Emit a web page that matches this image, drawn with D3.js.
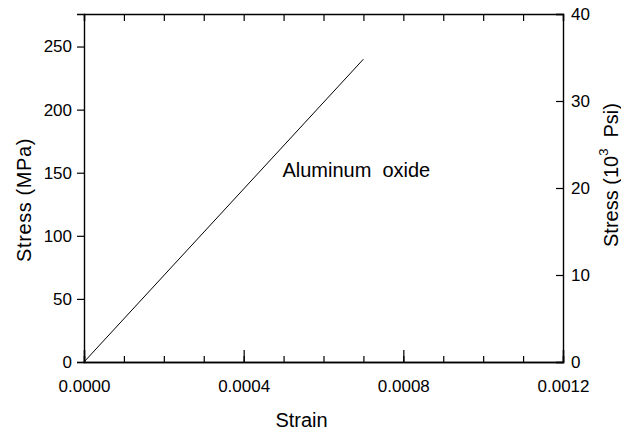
<!DOCTYPE html>
<html>
<head>
<meta charset="utf-8">
<script src="https://cdn.jsdelivr.net/npm/d3@7"></script>
<style>
  body { margin: 0; background: #fff; }
  text { font-family: Arial, "Liberation Sans", Helvetica, sans-serif; fill: #000; }
</style>
</head>
<body>
<div id="plot"></div>
<script>
// data
var strain = [0, 0.0007];
var stressMPa = [0, 240];
var xTicks = [0, 0.0004, 0.0008, 0.0012];
var yLeftTicks = [0, 50, 100, 150, 200, 250];
var yRightTicks = [0, 10, 20, 30, 40];
var label = "Aluminum\u00a0\u00a0oxide";

var W = 621, H = 430;
var margin = {top: 14, right: 58, bottom: 68, left: 84},
    width = W - margin.left - margin.right,
    height = H - margin.top - margin.bottom;

var svg = d3.select("#plot")
  .append("svg")
    .attr("width", W)
    .attr("height", H)
  .append("g")
    .attr("transform", "translate(" + margin.left + "," + margin.top + ")");

var x = d3.scaleLinear().domain([0, 0.0012]).range([0, width]);
// right axis is ksi, left axis MPa (1 ksi = 6.894757 MPa)
var yR = d3.scaleLinear().domain([0, 40]).range([height, 0]);
var yL = d3.scaleLinear().domain([0, 40 * 6.894757]).range([height, 0]);

var fmtX = d3.format(".4f");
var minorX = d3.range(0, 12.5).map(function(i) { return i * 0.0001; });

// bottom axis: minor ticks every 0.0001, major every 0.0004
var gBottom = svg.append("g").attr("transform", "translate(0," + height + ")");
gBottom.call(d3.axisBottom(x).tickValues(minorX).tickSize(-6).tickFormat(""));
gBottom.append("g").call(d3.axisBottom(x).tickValues(xTicks).tickSize(-12).tickPadding(18).tickFormat(fmtX));

var gTop = svg.append("g");
gTop.call(d3.axisTop(x).tickValues(minorX).tickSize(-7).tickFormat(""));

var gLeft = svg.append("g");
gLeft.call(d3.axisLeft(yL).tickValues(yLeftTicks).tickSize(7).tickPadding(5));

var gRight = svg.append("g").attr("transform", "translate(" + width + ",0)");
gRight.call(d3.axisRight(yR).tickValues(yRightTicks).tickSize(-7).tickPadding(8));

svg.selectAll(".domain").attr("stroke", "#000").attr("stroke-width", 1.4);
svg.selectAll(".tick line").attr("stroke", "#000").attr("stroke-width", 1.2);
svg.selectAll(".tick text").style("font-size", "17px").style("font-family", "Arial, 'Liberation Sans', sans-serif").attr("fill", "#000");

// the data line
svg.append("path")
  .datum(strain.map(function(d, i) { return {s: d, p: stressMPa[i]}; }))
  .attr("fill", "none")
  .attr("stroke", "#000")
  .attr("stroke-width", 1)
  .attr("d", d3.line()
    .x(function(d) { return x(d.s); })
    .y(function(d) { return yL(d.p); })
  );

svg.append("text")
  .attr("x", x(0.000497))
  .attr("y", yL(147))
  .style("font-size", "20px")
  .text(label);

// axis titles
svg.append("text")
  .attr("x", x(0.000545))
  .attr("y", height + 65)
  .attr("text-anchor", "middle")
  .style("font-size", "20px")
  .text("Strain");

svg.append("text")
  .attr("transform", "translate(" + (24 - margin.left) + "," + (200 - margin.top) + ") rotate(-90)")
  .attr("text-anchor", "middle")
  .attr("dominant-baseline", "central")
  .style("font-size", "20px")
  .style("letter-spacing", "0.6px")
  .text("Stress (MPa)");

var rt = svg.append("text")
  .attr("transform", "translate(" + (611 - margin.left) + "," + (175 - margin.top) + ") rotate(-90)")
  .attr("text-anchor", "middle")
  .attr("dominant-baseline", "central")
  .style("font-size", "20px");
rt.append("tspan").text("Stress (10");
rt.append("tspan").attr("dy", -8).style("font-size", "13px").text("3");
rt.append("tspan").attr("dy", 8).text("\u00a0\u00a0Psi)");
</script>
</body>
</html>
